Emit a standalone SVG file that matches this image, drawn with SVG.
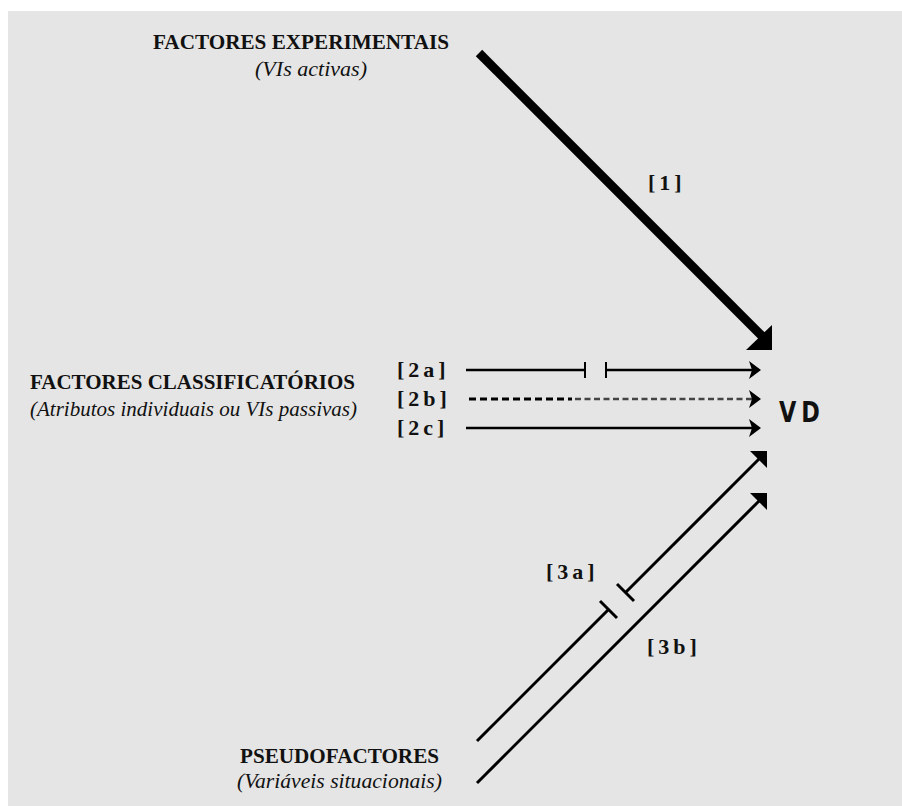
<svg xmlns="http://www.w3.org/2000/svg" width="902" height="806" viewBox="0 0 902 806">
  <style>
    .hd { font-weight: bold; font-size: 21px; fill: #111; }
    .sub { font-style: italic; font-size: 21px; fill: #111; }
    .lbl { font-weight: bold; font-size: 22px; letter-spacing: 4px; fill: #111; }
    .vd { font-weight: bold; font-size: 28px; letter-spacing: 6px; fill: #111; }
    .ln { stroke: #000; stroke-width: 2.6; fill: none; }
    .dg { stroke: #000; stroke-width: 3; fill: none; }
    .head { fill: #000; }
  </style>

  <!-- panel -->
  <rect x="0" y="0" width="902" height="806" fill="#ffffff"/>
  <rect x="8" y="11" width="894" height="795" fill="#e5e5e5"/>

  <g font-family="Liberation Serif, Tinos, Times New Roman, serif">
    <!-- source and target nodes -->
    <g id="experimentais">
      <text class="hd" x="153" y="49" textLength="296" lengthAdjust="spacingAndGlyphs">FACTORES EXPERIMENTAIS</text>
      <text class="sub" x="255" y="76" textLength="112" lengthAdjust="spacingAndGlyphs">(VIs activas)</text>
    </g>
    <g id="classificatorios">
      <text class="hd" x="30" y="389" textLength="325" lengthAdjust="spacingAndGlyphs">FACTORES CLASSIFICATÓRIOS</text>
      <text class="sub" x="30" y="416" textLength="327" lengthAdjust="spacingAndGlyphs">(Atributos individuais ou VIs passivas)</text>
    </g>
    <g id="pseudofactores">
      <text class="hd" x="240" y="763" textLength="199" lengthAdjust="spacingAndGlyphs">PSEUDOFACTORES</text>
      <text class="sub" x="237" y="788" textLength="205" lengthAdjust="spacingAndGlyphs">(Variáveis situacionais)</text>
    </g>

    <!-- connector labels -->
    <g id="labels">
      <text class="lbl" x="648" y="190">[1]</text>
      <text class="lbl" x="397" y="377">[2a]</text>
      <text class="lbl" x="397" y="406">[2b]</text>
      <text class="lbl" x="397" y="435">[2c]</text>
      <text class="lbl" x="546" y="579">[3a]</text>
      <text class="lbl" x="647" y="654">[3b]</text>
    </g>
  </g>

  <g id="vd">
    <text class="vd" transform="translate(779,422) scale(0.8,1)" font-family="DejaVu Sans, sans-serif">VD</text>
  </g>

  <!-- connectors -->
  <g id="connectors">
    <!-- [1] thick diagonal -->
    <line x1="479" y1="53" x2="762" y2="336" stroke="#000" stroke-width="9"/>
    <polygon class="head" points="746,350 772,350 772,325"/>

    <!-- [2a] interrupted -->
    <line class="ln" x1="466" y1="370" x2="585" y2="370"/>
    <line x1="585" y1="362" x2="585" y2="378" stroke="#000" stroke-width="2"/>
    <line x1="606" y1="362" x2="606" y2="378" stroke="#000" stroke-width="2"/>
    <line class="ln" x1="606" y1="370" x2="754" y2="370"/>
    <polygon class="head" points="761,370 749,361 752,370 749,379"/>

    <!-- [2b] dashed -->
    <line x1="469" y1="399" x2="572" y2="399" stroke="#000" stroke-width="3" stroke-dasharray="7 4"/>
    <line x1="575" y1="399" x2="752" y2="399" stroke="#444" stroke-width="2.4" stroke-dasharray="6 3.5"/>
    <polygon class="head" points="761,399 749,390 752,399 749,408"/>

    <!-- [2c] -->
    <line class="ln" x1="466" y1="428" x2="754" y2="428"/>
    <polygon class="head" points="761,428 749,419 752,428 749,437"/>

    <!-- [3a] interrupted diagonal -->
    <line class="dg" x1="477" y1="741" x2="608.5" y2="609.5"/>
    <line x1="600" y1="601" x2="617" y2="618" stroke="#000" stroke-width="3"/>
    <line x1="617" y1="584" x2="634" y2="601" stroke="#000" stroke-width="3"/>
    <line class="dg" x1="625.5" y1="592.5" x2="760" y2="458"/>
    <polygon class="head" points="750,451 767,451 767,468"/>

    <!-- [3b] diagonal -->
    <line class="dg" x1="477" y1="783" x2="760" y2="500"/>
    <polygon class="head" points="750,493 767,493 767,510"/>
  </g>
</svg>
